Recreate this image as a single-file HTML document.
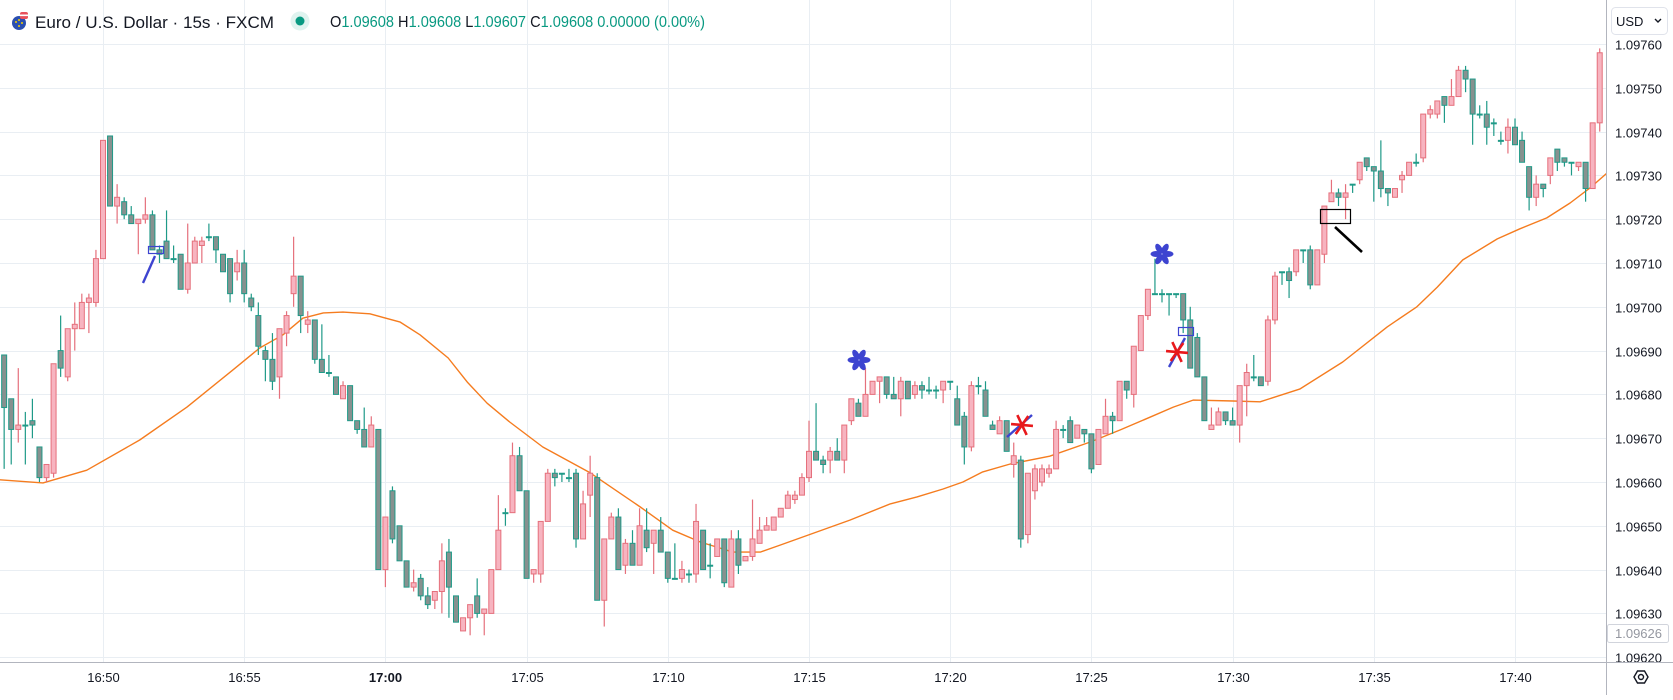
<!DOCTYPE html>
<html><head><meta charset="utf-8">
<style>
html,body{margin:0;padding:0;background:#fff;}
body{width:1673px;height:695px;overflow:hidden;font-family:"Liberation Sans",sans-serif;}
svg text{font-family:"Liberation Sans",sans-serif;}
</style></head>
<body>
<svg id="chart" width="1673" height="695" viewBox="0 0 1673 695" xmlns="http://www.w3.org/2000/svg">
  <rect x="0" y="0" width="1673" height="695" fill="#ffffff"/>
  <defs><clipPath id="plotClip"><rect x="0" y="0" width="1606" height="662"/></clipPath>
  <clipPath id="axisClip"><rect x="1607" y="0" width="66" height="662"/></clipPath></defs>
  <g id="grid"></g>
  <g id="plot" clip-path="url(#plotClip)"></g>
  <g id="annot"></g>
  <line x1="1606.5" y1="0" x2="1606.5" y2="695" stroke="#b2b5be" stroke-width="1"/>
  <line x1="0" y1="662.5" x2="1673" y2="662.5" stroke="#b2b5be" stroke-width="1"/>
  <g id="yaxis" clip-path="url(#axisClip)"></g>
  <g id="xaxis"></g>
  <g>
    <rect x="1611.5" y="7.5" width="56" height="27" rx="4" fill="#fff" stroke="#e0e3eb"/>
    <text x="1616" y="26" font-size="13" fill="#131722">USD</text>
    <path d="M1655 19 l3 3 l3 -3" fill="none" stroke="#131722" stroke-width="1.4"/>
  </g>
  <g>
    <rect x="1607.5" y="624.5" width="61" height="18" rx="2" fill="#fff" stroke="#d1d4dc"/>
    <text x="1615" y="638" font-size="13" fill="#9598a1">1.09626</text>
  </g>
  <g>
    <polygon points="1634,677 1637.5,671 1644.5,671 1648,677 1644.5,683 1637.5,683" fill="none" stroke="#131722" stroke-width="1.4"/>
    <circle cx="1641" cy="677" r="2.5" fill="none" stroke="#131722" stroke-width="1.4"/>
  </g>
  <g>
    <g>
      <circle cx="19" cy="23" r="7" fill="#2a4fb0"/>
      <circle cx="16" cy="22" r="1" fill="#f5d000"/><circle cx="19" cy="20" r="1" fill="#f5d000"/><circle cx="19" cy="26" r="1" fill="#f5d000"/><circle cx="22" cy="23" r="1" fill="#f5d000"/>
      <rect x="20" y="12" width="8" height="7" rx="2" fill="#e8505b"/><rect x="20" y="14.5" width="8" height="1.6" fill="#fff"/>
    </g>
    <text x="35" y="28" font-size="17" fill="#131722" textLength="239" lengthAdjust="spacingAndGlyphs">Euro / U.S. Dollar · 15s · FXCM</text>
    <g>
      <circle cx="300" cy="21" r="9.5" fill="#dff3ef"/><circle cx="300" cy="21" r="4.5" fill="#089981"/>
    </g>
    <text x="330" y="27" font-size="15.5" fill="#089981" textLength="375" lengthAdjust="spacingAndGlyphs"><tspan fill="#131722">O</tspan>1.09608 <tspan fill="#131722">H</tspan>1.09608 <tspan fill="#131722">L</tspan>1.09607 <tspan fill="#131722">C</tspan>1.09608 0.00000 (0.00%)</text>
  </g>
</svg>
<script>
// prices stored as 1e-5 units above 1.09000 (e.g. 689 = 1.09689)
const openP = [689,679,672,673,674,668,661,662,690,684,695,695,701,701,711,739,723,724,721,719,720,721,713,715,711,712,704,710,714,716,716,712,711,708,710,702,698,690,688,684,694,703,707,696,697,688,685,684,679,682,674,672,668,672,640,658,650,642,636,638,634,633,635,644,634,626,629,634,630,630,640,653,653,666,658,639,639,651,662,662,661,662,647,657,661,633,647,652,641,646,641,649,646,649,644,638,638,639,639,649,641,643,647,636,647,642,643,646,649,649,652,654,656,657,661,667,665,665,667,665,674,678,675,680,683,684,680,679,683,680,682,681,681,681,683,679,675,668,682,681,673,671,674,664,665,648,658,660,662,663,672,674,670,672,671,664,671,675,674,683,680,690,698,703,703,703,703,703,697,693,684,672,673,676,674,673,682,684,684,683,697,708,708,708,713,713,705,712,724,726,725,728,729,734,732,731,727,725,729,730,733,734,744,744,748,746,748,754,752,744,744,742,738,738,741,738,732,725,728,730,736,734,733,732,733,727,742];
const highP = [689,679,686,676,679,668,664,687,698,695,701,703,703,713,738,739,728,725,723,720,725,722,714,722,714,712,719,716,716,719,716,712,711,713,713,703,701,691,694,695,699,716,707,699,697,696,689,684,683,682,674,677,675,672,652,659,650,642,640,639,636,635,646,647,634,629,632,638,631,640,657,654,669,668,658,640,651,663,663,662,663,663,658,666,662,647,653,654,647,649,654,654,649,652,644,646,642,640,655,649,646,647,647,649,649,643,656,652,652,652,654,658,658,662,674,678,666,668,670,673,679,679,686,683,684,684,684,684,683,683,683,684,682,683,683,682,676,683,684,683,674,675,674,669,666,662,664,664,664,674,673,675,673,672,671,672,679,676,683,683,691,698,704,711,704,703,703,703,700,694,684,677,677,676,677,682,687,689,684,698,708,708,709,713,713,714,713,723,729,727,728,728,733,734,732,738,727,727,731,733,735,744,746,747,748,752,755,755,752,746,747,743,740,743,743,740,732,730,728,734,736,734,733,733,733,742,759];
const lowP = [663,664,669,664,670,660,660,661,684,683,690,695,694,700,711,723,719,720,719,712,719,713,710,711,710,704,703,710,710,715,710,708,701,706,701,699,689,683,681,679,691,700,694,694,687,685,684,680,679,674,671,668,668,640,636,646,642,636,635,633,631,631,630,629,628,626,625,629,625,630,640,650,653,658,638,637,637,651,659,660,660,645,647,652,633,627,647,640,639,641,641,644,639,644,637,638,637,637,637,640,638,643,636,636,639,642,642,646,649,649,652,654,655,657,660,665,662,662,665,662,673,675,675,680,678,679,679,675,679,679,679,680,679,678,681,673,664,667,680,675,672,671,667,661,645,646,656,659,661,663,670,669,670,669,662,664,671,671,674,679,677,690,697,703,701,698,702,694,686,684,674,672,673,673,673,669,675,683,682,682,696,705,702,707,710,704,705,710,724,723,720,726,728,731,724,725,723,725,726,730,732,733,743,743,742,746,748,749,737,743,737,739,737,735,737,733,722,723,725,728,731,732,730,731,724,727,740];
const closeP = [677,672,673,673,673,661,664,687,686,695,696,701,702,711,738,723,725,721,719,720,721,713,712,711,711,704,710,715,715,716,713,708,703,710,703,700,691,688,683,695,698,707,698,697,688,685,685,680,682,674,672,668,673,640,652,647,642,636,637,634,632,635,642,636,628,629,632,630,631,640,649,653,666,658,638,640,651,662,661,662,661,647,655,662,633,647,652,640,646,641,650,645,649,644,638,638,640,639,651,640,641,647,637,647,641,643,647,649,650,652,654,657,657,661,667,665,664,667,665,673,679,675,680,683,684,680,679,683,679,682,681,681,681,683,683,673,668,682,682,675,672,674,667,666,647,662,663,663,663,672,672,669,673,671,663,672,675,674,683,681,691,698,704,703,703,703,703,697,686,684,674,673,676,674,673,682,685,684,682,697,707,708,706,713,713,705,713,723,726,725,726,728,733,732,731,727,726,727,730,733,733,744,745,747,746,748,754,752,744,744,741,742,738,741,737,733,725,728,727,734,733,733,733,733,727,742,758];
// moving average (orange) sampled at bar positions
const maIdx = [-0.6,5.5,11.7,19.2,25.9,32.4,36.2,39.5,42.3,45.2,48,51.8,56.1,58.9,62.9,65.6,68.4,71.6,76.3,83,90.1,94.7,98.6,103.2,107.1,109.9,119.8,125.5,129.3,133,135.8,138.6,142.5,148.1,153.8,158.1,162.3,165.6,168.4,174.1,177.9,183.5,189.6,195.9,200.1,203,206.6,211.5,214.7,218.5,221.8,224.6,227];
const maVal = [660.5,659.8,662.7,669.6,677.1,685.6,690.6,693.6,697.4,698.6,698.8,698.4,696.5,693.6,688.3,682.8,678,673.7,668,662.1,654.3,649,646.3,644,644,645.6,651.3,655,656.6,658.4,660,662.3,664.1,665.9,669.1,671.9,674.8,677.1,678.7,678.5,678.3,681.2,687.4,695.4,700,704.5,710.7,715.5,717.8,720.3,723.7,727.1,730.5];
const priceTicks = [760,750,740,730,720,710,700,690,680,670,660,650,640,630,620];
const timeLabels = ["16:50","16:55","17:00","17:05","17:10","17:15","17:20","17:25","17:30","17:35","17:40"];
const timeLabelBars = [14,34,54,74,94,114,134,154,174,194,214];

const NS = "http://www.w3.org/2000/svg";
const X0 = 4.16, DX = 7.06;
function xOf(i){ return X0 + i*DX; }
function yOf(v){ return 44 + (760 - v)*4.38; }
function mk(tag, attrs, parent){ const e=document.createElementNS(NS,tag); for(const k in attrs) e.setAttribute(k, attrs[k]); parent.appendChild(e); return e; }

const grid=document.getElementById('grid'), plot=document.getElementById('plot');
const yaxis=document.getElementById('yaxis'), xaxis=document.getElementById('xaxis');

priceTicks.forEach(function(v){
  const y = Math.round(yOf(v))+0.5;
  const g = mk('line',{x1:0,x2:1606,y1:y,y2:y,stroke:'#e9eef3','stroke-width':1},grid);
  
  
  const t = mk('text',{x:1615,y:y+5,'font-size':13,fill:'#131722'},yaxis);
  t.textContent = '1.09'+v;
  
  
});
timeLabels.forEach(function(lab,k){
  const x = Math.round(xOf(timeLabelBars[k]))+0.5;
  const g = mk('line',{x1:x,x2:x,y1:0,y2:662,stroke:'#e9eef3','stroke-width':1},grid);
  
  
  const t = mk('text',{x:x,y:682,'font-size':13,fill:'#131722','text-anchor':'middle','font-weight':lab==='17:00'?'bold':'normal'},xaxis);
  t.textContent = lab;
  
  
});

// MA line
let d='';
maIdx.forEach(function(i,k){ d += (k?'L':'M')+xOf(i).toFixed(1)+' '+yOf(maVal[k]).toFixed(1)+' '; });
const ma = mk('path',{d:d,fill:'none',stroke:'#f57c1f','stroke-width':1.4,'stroke-linejoin':'round'},plot);



// candles
openP.forEach(function(o,i){
  const c=closeP[i], h=highP[i], l=lowP[i];
  const up = c>o;
  const x = xOf(i);
  const g = mk('g',{},plot);
  
  
  const wc = up?'#e5707c':'#1f9a88';
  mk('line',{x1:x,x2:x,y1:yOf(h),y2:yOf(l),stroke:wc,'stroke-width':1.2},g);
  const yt=yOf(Math.max(o,c)), yb=yOf(Math.min(o,c));
  mk('rect',{x:x-2.5,y:yt,width:5,height:Math.max(1,yb-yt),fill:up?'#f7b4c0':'#87918f',stroke:up?'#e5707c':'#1f9a88','stroke-width':1},g);
});

// drawings
const an=document.getElementById('annot');
function flower(cx,cy){
  const g=mk('g',{},an);
  
  
  for(let a=0;a<360;a+=60){
    mk('ellipse',{cx:cx,cy:cy-6,rx:3,ry:5.5,fill:'#3d44d0',transform:'rotate('+(a+30)+' '+cx+' '+cy+')'},g);
  }
}
flower(859,360); flower(1162,254);
function redStar(cx,cy,bx1,by1,bx2,by2){
  const g=mk('g',{},an);
  
  
  mk('line',{x1:bx1,y1:by1,x2:bx2,y2:by2,stroke:'#3d44d0','stroke-width':2.4},g);
  [0,60,120].forEach(function(a){
    mk('line',{x1:cx-11,y1:cy,x2:cx+11,y2:cy,stroke:'#e8191c','stroke-width':2.6,transform:'rotate('+(a+5)+' '+cx+' '+cy+')'},g);
  });
}
redStar(1022,425,1007,437,1032,415);
redStar(1177,352,1169,367,1185,338);
const b1=mk('g',{},an);


mk('rect',{x:148.5,y:246.5,width:15,height:7,fill:'none',stroke:'#3d44d0','stroke-width':1.2},b1);
mk('line',{x1:143,y1:283,x2:155,y2:256,stroke:'#3d44d0','stroke-width':2.4},b1);
const b2=mk('rect',{x:1178.5,y:327.5,width:15,height:8,fill:'none',stroke:'#3d44d0','stroke-width':1.2},an);


const k1=mk('g',{},an);


mk('rect',{x:1320.5,y:209.5,width:30,height:14,fill:'none',stroke:'#000','stroke-width':1.2},k1);
mk('line',{x1:1335,y1:227,x2:1362,y2:252,stroke:'#000','stroke-width':2.6},k1);
</script>
</body></html>
